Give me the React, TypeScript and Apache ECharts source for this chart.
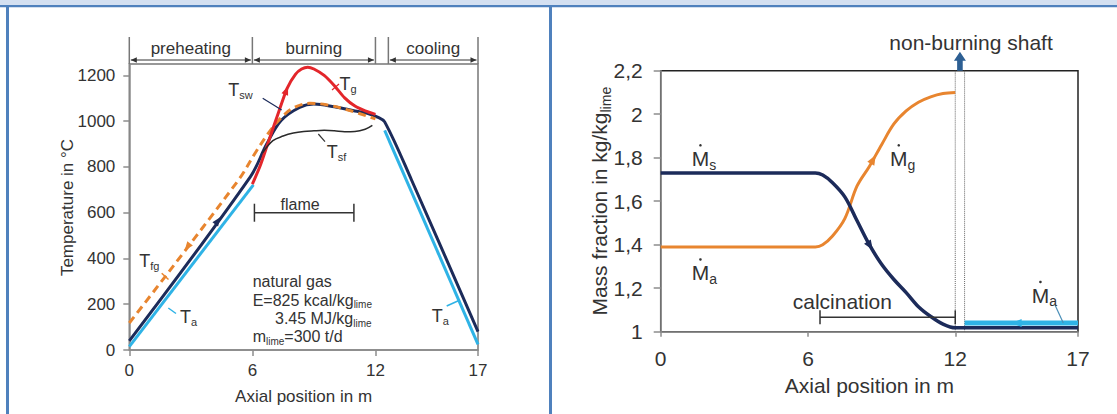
import React, { useEffect, useRef } from "react";
import * as echarts from "echarts";

const FONT = "'Liberation Sans', Arial, Helvetica, sans-serif";

// ---------- shared x axis ----------
const xTickValues = [0, 6, 12, 17];

// ---------- left panel: temperatures (x in m, y in °C) ----------
const tempTicks = [0, 200, 400, 600, 800, 1000, 1200];
const tempMax = 1250;
const Ts = [[0, 40], [5.9, 757], [6.7, 900], [7.4, 1003], [8.3, 1060], [9, 1075], [10, 1063], [11, 1045], [11.6, 1035], [12.1, 1018], [12.45, 997], [13.76, 743], [17, 80]];
const TaPre = [[0, 15], [6.05, 722]];
const TaCool = [[12.45, 960], [17, 25]];
const Tfg = [[0, 118], [5.3, 740], [6.2, 870], [6.8, 950], [7.4, 1015], [8, 1058], [8.8, 1078], [9.6, 1072], [10.7, 1048], [12, 1010]];
const Tg = [[6, 725], [6.4, 810], [6.8, 915], [7.3, 1045], [7.7, 1145], [8.1, 1205], [8.4, 1228], [8.7, 1236], [9.0, 1228], [9.5, 1200], [10, 1155], [10.5, 1102], [11, 1066], [11.5, 1045], [12, 1030]];
const Tsf = [[6.5, 862], [7, 915], [7.5, 935], [8, 948], [8.5, 955], [9, 958], [9.5, 960], [10, 958], [10.5, 954], [11, 955], [11.5, 965], [11.85, 982]];
const flameRange = [[6.1, 600], [10.95, 600]];
const zones = [
  { label: "preheating", from: 0, to: 6 },
  { label: "burning", from: 6, to: 12 },
  { label: "cooling", from: 12.63, to: 17 },
];

// ---------- right panel: mass fractions (kg/kg_lime) ----------
const massTicks = [1, 1.2, 1.4, 1.6, 1.8, 2, 2.2];
const Ms = [[0, 1.73], [6.3, 1.73], [6.6, 1.72], [7, 1.685], [7.5, 1.62], [8, 1.51], [8.5, 1.4], [9, 1.31], [9.5, 1.24], [10, 1.18], [10.5, 1.115], [11, 1.07], [11.5, 1.035], [12, 1.018], [17, 1.018]];
const Mg = [[0, 1.39], [6.3, 1.39], [6.6, 1.4], [7, 1.44], [7.5, 1.52], [8, 1.67], [8.5, 1.76], [9, 1.86], [9.5, 1.955], [10, 2.015], [10.5, 2.055], [11, 2.08], [11.5, 2.095], [12, 2.1]];
const MaShaft = [[12.38, 1.04], [17, 1.04]];
const calcRange = [[6.49, 1.066], [12, 1.066]];
const shaftBounds = [12, 12.38];

const NAVY = "#1c2b5a";
const LBLUE = "#2fb3e6";
const ORANGE = "#e8852f";
const RED = "#e3262b";
const TXT = "#333";
const AXIS = "#8c8c8c";

function interp(data: number[][], x: number): number {
  for (let i = 0; i < data.length - 1; i++) {
    const [x0, y0] = data[i];
    const [x1, y1] = data[i + 1];
    if (x >= x0 && x <= x1) return y0 + ((y1 - y0) * (x - x0)) / (x1 - x0);
  }
  return data[data.length - 1][1];
}

export default function App() {
  const ref = useRef<HTMLDivElement>(null);
  useEffect(() => {
    document.body.style.margin = "0";
    const chart = echarts.init(ref.current!, undefined, { renderer: "svg" });
    const line = (name: string, data: number[][], grid: number, color: string, width: number, extra: any = {}) => ({
      name,
      type: "line",
      xAxisIndex: grid,
      yAxisIndex: grid,
      data,
      showSymbol: false,
      symbol: "none",
      smooth: extra.smooth ?? 0.35,
      lineStyle: { color, width, ...(extra.lineStyle || {}) },
      z: extra.z || 2,
      silent: true,
    });
    const xAxisBase = (grid: number, size: number, margin: number, tickLen: number) => ({
      type: "value",
      gridIndex: grid,
      min: 0,
      max: 17,
      axisLine: { show: true, lineStyle: { color: AXIS, width: 1.5 } },
      axisTick: { show: true, customValues: xTickValues, length: tickLen, lineStyle: { color: AXIS, width: 1.5 } },
      axisLabel: { customValues: xTickValues, fontSize: size, color: TXT, fontFamily: FONT, margin, formatter: (v: number) => String(v) },
      splitLine: { show: false },
    });
    chart.setOption({
      animation: false,
      grid: [
        { left: 129.3, top: 64, width: 348.7, height: 286, show: true, borderColor: "#777", borderWidth: 1.5 },
        { left: 660.7, top: 70.7, width: 417.3, height: 261, show: true, borderColor: "#222", borderWidth: 1.5 },
      ],
      xAxis: [xAxisBase(0, 17, 12, 6), xAxisBase(1, 21, 16, 5)],
      yAxis: [
        {
          type: "value", gridIndex: 0, min: 0, max: tempMax,
          axisLine: { show: true, lineStyle: { color: AXIS, width: 1.5 } },
          axisTick: { show: true, customValues: tempTicks, length: 6, lineStyle: { color: AXIS, width: 1.5 } },
          axisLabel: { customValues: tempTicks, fontSize: 17, color: TXT, fontFamily: FONT, margin: 14, formatter: (v: number) => String(v) },
          splitLine: { show: false },
        },
        {
          type: "value", gridIndex: 1, min: 1, max: 2.2,
          axisLine: { show: true, lineStyle: { color: AXIS, width: 1.5 } },
          axisTick: { show: true, customValues: massTicks, length: 7, lineStyle: { color: AXIS, width: 1.5 } },
          axisLabel: {
            customValues: massTicks, fontSize: 21, color: TXT, fontFamily: FONT, margin: 18,
            formatter: (v: number) => String(+v.toFixed(1)).replace(".", ","),
          },
          splitLine: { show: false },
        },
      ],
      series: [
        line("Ta preheating", TaPre, 0, LBLUE, 3),
        line("Ta cooling", TaCool, 0, LBLUE, 3),
        line("Ts", Ts, 0, NAVY, 3, { z: 3 }),
        line("Tfg", Tfg, 0, ORANGE, 3, { z: 4, lineStyle: { type: [8, 5] } }),
        line("Tg", Tg, 0, RED, 3, { z: 5, smooth: 0.25 }),
        line("Tsf", Tsf, 0, "#2a2a2a", 1.5, { z: 6 }),
        line("flame", flameRange, 0, "#333", 1.5, { z: 6 }),
        line("shaft left", [[shaftBounds[0], 1], [shaftBounds[0], 2.2]], 1, "#666", 1, { lineStyle: { type: "dotted" } }),
        line("shaft right", [[shaftBounds[1], 1], [shaftBounds[1], 2.2]], 1, "#666", 1, { lineStyle: { type: "dotted" } }),
        line("Mg", Mg, 1, ORANGE, 3, { z: 3 }),
        line("Ma shaft", MaShaft, 1, LBLUE, 5, { z: 3 }),
        line("Ms", Ms, 1, NAVY, 3.5, { z: 4 }),
        line("calcination", calcRange, 1, "#333", 1.5, { z: 6 }),
      ],
    });

    const ctx = document.createElement("canvas").getContext("2d")!;
    const tw = (t: string, s: number) => {
      ctx.font = `${s}px ${FONT}`;
      return ctx.measureText(t).width;
    };
    const px = (g: number, p: number[]) => chart.convertToPixel({ gridIndex: g }, p) as number[];
    const G: any[] = [];
    const text = (x: number, y: number, t: string, s: number, align = "left", extra: any = {}) =>
      G.push({ type: "text", x, y, z: 50, silent: true, ...extra, style: { text: t, fontSize: s, fontFamily: FONT, fill: TXT, align, verticalAlign: "middle" } });
    const seg = (x1: number, y1: number, x2: number, y2: number, color: string, w = 1, z = 40) =>
      G.push({ type: "line", z, silent: true, shape: { x1, y1, x2, y2 }, style: { stroke: color, lineWidth: w } });
    const rich = (x: number, y: number, parts: [string, boolean][], s: number, ss: number, dotOnFirst = false) => {
      let cx = x;
      parts.forEach(([t, sub], i) => {
        if (sub) {
          text(cx, y + s * 0.3, t, ss);
          cx += tw(t, ss);
        } else {
          text(cx, y, t, s);
          if (dotOnFirst && i === 0) {
            G.push({ type: "circle", z: 50, shape: { cx: cx + tw(t, s) / 2, cy: y - s * 0.62, r: 1.3 }, style: { fill: TXT } });
          }
          cx += tw(t, s);
        }
      });
    };
    const arrow = (g: number, data: number[][], x: number, dir: number, color: string, len = 9, half = 3.5) => {
      const dx = 0.05 * dir;
      const p1 = px(g, [x, interp(data, x)]);
      const p2 = px(g, [x + dx, interp(data, x + dx)]);
      let ux = p2[0] - p1[0], uy = p2[1] - p1[1];
      const n = Math.hypot(ux, uy) || 1;
      ux /= n; uy /= n;
      const tip = [p1[0] + (ux * len) / 2, p1[1] + (uy * len) / 2];
      const bx = p1[0] - (ux * len) / 2, by = p1[1] - (uy * len) / 2;
      G.push({ type: "polygon", z: 60, silent: true, shape: { points: [tip, [bx - uy * half, by + ux * half], [bx + uy * half, by - ux * half]] }, style: { fill: color } });
    };

    // page frame
    G.push({ type: "rect", z: 0, shape: { x: 0, y: 0, width: 1117, height: 5 }, style: { fill: "#d4e0f1" } });
    G.push({ type: "rect", z: 1, shape: { x: 0, y: 5, width: 1117, height: 2.3 }, style: { fill: "#4f81bd" } });
    G.push({ type: "rect", z: 1, shape: { x: 6, y: 5, width: 3, height: 409 }, style: { fill: "#4f81bd" } });
    G.push({ type: "rect", z: 1, shape: { x: 549, y: 5, width: 3, height: 409 }, style: { fill: "#4f81bd" } });

    // ----- left panel -----
    const bounds = [0, 6, 12, 12.63, 17];
    bounds.forEach((b) => {
      const xb = px(0, [b, 0])[0];
      seg(xb, 37, xb, 64, "#777", 1.5);
    });
    zones.forEach((zn) => {
      const a = px(0, [zn.from, 0])[0] + 1.5;
      const b = px(0, [zn.to, 0])[0] - 1.5;
      const yy = 60;
      seg(a, yy, b, yy, "#333", 1);
      G.push({ type: "polygon", z: 41, shape: { points: [[a, yy], [a + 6, yy - 2.8], [a + 6, yy + 2.8]] }, style: { fill: "#333" } });
      G.push({ type: "polygon", z: 41, shape: { points: [[b, yy], [b - 6, yy - 2.8], [b - 6, yy + 2.8]] }, style: { fill: "#333" } });
      text((a + b) / 2, 48.3, zn.label, 17, "center");
    });
    flameRange.forEach((p) => {
      const q = px(0, p);
      seg(q[0], q[1] - 9, q[0], q[1] + 9, "#333", 1.5);
    });
    {
      const a = px(0, flameRange[0]), b = px(0, flameRange[1]);
      text((a[0] + b[0]) / 2 - 4, a[1] - 8, "flame", 16, "center");
    }
    // curve labels
    rich(228.3, 90, [["T", false], ["sw", true]], 18, 11);
    seg(262.7, 98.3, 281.7, 110, NAVY, 1.2);
    rich(339.5, 84, [["T", false], ["g", true]], 18, 11);
    seg(332, 90, 339, 84, RED, 1.2);
    rich(326.7, 151.7, [["T", false], ["sf", true]], 18, 11);
    seg(318.3, 134, 325, 141.7, "#333", 1.2);
    rich(139.3, 260.5, [["T", false], ["fg", true]], 18, 11);
    seg(161.7, 273.3, 168.5, 279.5, ORANGE, 1.5);
    rich(180, 316.7, [["T", false], ["a", true]], 18, 11);
    seg(168.3, 308, 176, 313.5, LBLUE, 1.5);
    rich(431.7, 316, [["T", false], ["a", true]], 18, 11);
    seg(446.7, 306, 460, 300, LBLUE, 1.5);
    text(252.7, 281.7, "natural gas", 16);
    rich(252.7, 300, [["E=825 kcal/kg", false], ["lime", true]], 16, 10);
    rich(275, 318.5, [["3.45 MJ/kg", false], ["lime", true]], 16, 10);
    rich(252.7, 336.7, [["m", false], ["lime", true], ["=300 t/d", false]], 16, 10);
    text(303.6, 396, "Axial position in m", 17, "center");
    text(67.5, 207.5, "Temperature in °C", 17, "center", { rotation: Math.PI / 2 });
    arrow(0, Ts, 4.32, 1, NAVY);
    arrow(0, Tfg, 2.83, -1, ORANGE);
    arrow(0, Tg, 7.66, 1, RED);

    // ----- right panel -----
    calcRange.forEach((p) => {
      const q = px(1, p);
      seg(q[0], q[1] - 7, q[0], q[1] + 7, "#333", 1.5);
    });
    text(792.7, 301.7, "calcination", 21);
    rich(691.7, 158.3, [["M", false], ["s", true]], 21, 14, true);
    rich(890, 158.3, [["M", false], ["g", true]], 21, 14, true);
    rich(691.7, 272.5, [["M", false], ["a", true]], 21, 14, true);
    rich(1031.7, 295, [["M", false], ["a", true]], 21, 14, true);
    seg(1055, 305, 1063.3, 323, "#4a8fb8", 1.2);
    arrow(1, Mg, 8.66, 1, ORANGE, 10, 4);
    arrow(1, Ms, 8.53, 1, NAVY, 10, 4);
    arrow(1, MaShaft, 14.5, -1, LBLUE, 10, 4);
    {
      const xa = px(1, [shaftBounds[0], 2.2])[0];
      const xb = px(1, [shaftBounds[1], 2.2])[0];
      const top = px(1, [0, 2.2])[1];
      const cx = (xa + xb) / 2;
      G.push({
        type: "polygon", z: 60,
        shape: { points: [[cx - 2.8, top], [cx - 2.8, top - 10], [cx - 6, top - 10], [cx, top - 19], [cx + 6, top - 10], [cx + 2.8, top - 10], [cx + 2.8, top]] },
        style: { fill: "#2d5f93" },
      });
      text(971, 42.7, "non-burning shaft", 21, "center");
    }
    text(869.4, 385, "Axial position in m", 21, "center");
    {
      const mainT = "Mass fraction in kg/kg";
      const w1 = tw(mainT, 21), w2 = tw("lime", 14);
      const tot = w1 + w2;
      G.push({
        type: "group", x: 599.5, y: 201.2, rotation: Math.PI / 2, z: 50,
        children: [
          { type: "text", x: -tot / 2, y: 0, style: { text: mainT, fontSize: 21, fontFamily: FONT, fill: TXT, align: "left", verticalAlign: "middle" } },
          { type: "text", x: -tot / 2 + w1, y: 6.5, style: { text: "lime", fontSize: 14, fontFamily: FONT, fill: TXT, align: "left", verticalAlign: "middle" } },
        ],
      });
    }

    chart.setOption({ graphic: G });
    return () => chart.dispose();
  }, []);
  return <div ref={ref} style={{ width: 1117, height: 414 }} />;
}
